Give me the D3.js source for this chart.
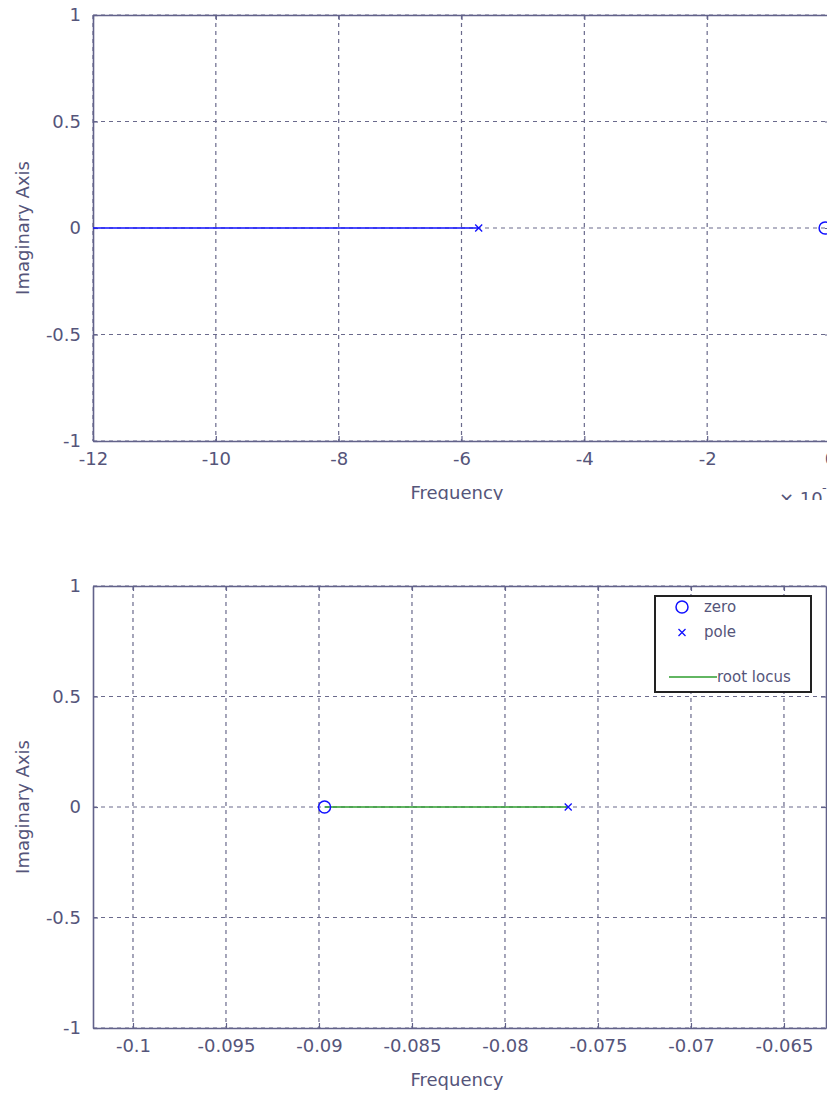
<!DOCTYPE html>
<html>
<head>
<meta charset="utf-8">
<script src="https://cdn.jsdelivr.net/npm/d3@7"></script>
<style>
  html, body { margin: 0; padding: 0; background: #fff; }
  svg { display: block; }
  text { font-family: "DejaVu Sans", sans-serif; fill: #55557a; }
</style>
</head>
<body>
<svg id="chart" width="827" height="1093"></svg>
<script>
// Upper root locus (real axis in units of the x10^ exponent)
const topXTicks = [-12, -10, -8, -6, -4, -2, 0];
const topYTicks = [-1, -0.5, 0, 0.5, 1];
const topPoles = [-5.72];
const topZeros = [-0.08];
const topLocus = [[-12, 0], [-5.72, 0]];

// Lower root locus
const botXTicks = [-0.1, -0.095, -0.09, -0.085, -0.08, -0.075, -0.07, -0.065];
const botYTicks = [-1, -0.5, 0, 0.5, 1];
const botPoles = [-0.0766];
const botZeros = [-0.0897];
const botLocus = [[-0.0897, 0], [-0.0766, 0]];
const legendItems = ["zero", "pole", "root locus"];

const svg = d3.select("#chart");
const frameColor = "#62628a";
const gridColor = "#6a6a8c";
const tickText = "#55557a";
const blue = "#1010ff";
const green = "#2e9e2e";
const plain = d => String(d);   // hyphen-minus, no unicode minus

function drawPanel(opt) {
  const g = svg.append("g").attr("clip-path", opt.clip ? `url(#${opt.clip})` : null);
  const x = d3.scaleLinear().domain(opt.xDomain).range([opt.left, opt.right]);
  const y = d3.scaleLinear().domain([-1, 1]).range([opt.bottom, opt.top]);

  // dashed grid
  g.append("g").selectAll("line").data(opt.xTicks).join("line")
    .attr("x1", d => x(d)).attr("x2", d => x(d))
    .attr("y1", opt.top).attr("y2", opt.bottom)
    .attr("stroke", gridColor).attr("stroke-width", 1.2)
    .attr("stroke-dasharray", "4,4");
  g.append("g").selectAll("line").data(opt.yTicks).join("line")
    .attr("x1", opt.left).attr("x2", opt.right)
    .attr("y1", d => y(d)).attr("y2", d => y(d))
    .attr("stroke", gridColor).attr("stroke-width", 1.2)
    .attr("stroke-dasharray", "4,4");

  // axes with inward ticks on all four sides
  const axB = d3.axisBottom(x).tickValues(opt.xTicks).tickSizeInner(-5).tickSizeOuter(0)
    .tickPadding(11).tickFormat(plain);
  const axT = d3.axisTop(x).tickValues(opt.xTicks).tickSizeInner(-5).tickSizeOuter(0).tickFormat("");
  const axL = d3.axisLeft(y).tickValues(opt.yTicks).tickSizeInner(-5).tickSizeOuter(0)
    .tickPadding(12).tickFormat(plain);
  const axR = d3.axisRight(y).tickValues(opt.yTicks).tickSizeInner(-5).tickSizeOuter(0).tickFormat("");

  const style = sel => {
    sel.selectAll("path").attr("stroke", frameColor).attr("stroke-width", 1.6);
    sel.selectAll("line").attr("stroke", frameColor).attr("stroke-width", 1.2);
    sel.selectAll("text").attr("fill", tickText).style("font-size", "18px")
      .style("font-family", "'DejaVu Sans', sans-serif");
  };
  g.append("g").attr("transform", `translate(0,${opt.bottom})`).call(axB).call(style);
  g.append("g").attr("transform", `translate(0,${opt.top})`).call(axT).call(style);
  g.append("g").attr("transform", `translate(${opt.left},0)`).call(axL).call(style);
  g.append("g").attr("transform", `translate(${opt.right},0)`).call(axR).call(style);

  // locus branch
  const line = d3.line().x(d => x(d[0])).y(d => y(d[1]));
  g.append("path").datum(opt.locus).attr("d", line)
    .attr("fill", "none").attr("stroke", opt.locusColor).attr("stroke-width", 1.6);

  // zeros
  g.selectAll("circle.z").data(opt.zeros).join("circle")
    .attr("cx", d => x(d)).attr("cy", y(0)).attr("r", 6)
    .attr("fill", "none").attr("stroke", blue).attr("stroke-width", 1.5);
  // poles
  g.selectAll("path.p").data(opt.poles).join("path")
    .attr("d", p => {
      const cx = x(p), cy = y(0), s = 3.5;
      return `M${cx - s},${cy - s}L${cx + s},${cy + s}M${cx - s},${cy + s}L${cx + s},${cy - s}`;
    })
    .attr("stroke", blue).attr("stroke-width", 1.3);

  // axis titles
  g.append("text").attr("x", 457).attr("y", opt.bottom + opt.xLabelDy)
    .attr("text-anchor", "middle").style("font-size", "18px").attr("fill", "#333344")
    .text("Frequency");
  g.append("text")
    .attr("transform", `translate(29,${y(0)}) rotate(-90)`)
    .attr("text-anchor", "middle").style("font-size", "18px").attr("fill", "#333344")
    .text("Imaginary Axis");
  return { g, x, y };
}

svg.append("defs").append("clipPath").attr("id", "topClip").append("rect")
  .attr("x", 0).attr("y", 0).attr("width", 827).attr("height", 500);

const topPanel = drawPanel({
  clip: "topClip",
  xDomain: [-12, 0], xTicks: topXTicks, yTicks: topYTicks,
  left: 93, right: 830, top: 15, bottom: 441,
  locus: topLocus, locusColor: blue, poles: topPoles, zeros: topZeros,
  xLabelDy: 58
});
// exponent label for the upper real axis
topPanel.g.append("text").attr("x", 779).attr("y", 505).style("font-size", "18px")
  .attr("fill", tickText).text("\u00d7 10");
topPanel.g.append("text").attr("x", 822).attr("y", 492).style("font-size", "13px")
  .attr("fill", tickText).text("-3");

drawPanel({
  xDomain: [-0.10215, -0.06274], xTicks: botXTicks, yTicks: botYTicks,
  left: 93, right: 826, top: 586, bottom: 1028,
  locus: botLocus, locusColor: green, poles: botPoles, zeros: botZeros,
  xLabelDy: 58
});

// legend
const lg = svg.append("g");
lg.append("rect").attr("x", 655).attr("y", 596).attr("width", 156).attr("height", 96)
  .attr("fill", "#fff").attr("stroke", "#222").attr("stroke-width", 2);
lg.append("circle").attr("cx", 682).attr("cy", 607).attr("r", 6)
  .attr("fill", "none").attr("stroke", blue).attr("stroke-width", 1.5);
lg.append("path").attr("d", "M678.5,629L685.5,636M678.5,636L685.5,629")
  .attr("stroke", blue).attr("stroke-width", 1.3);
lg.append("line").attr("x1", 669).attr("x2", 717).attr("y1", 677).attr("y2", 677)
  .attr("stroke", green).attr("stroke-width", 1.6);
const legendY = [612, 637, 682];
const legendX = [704, 704, 717];
lg.selectAll("text.leg").data(legendItems).join("text")
  .attr("x", (d, i) => legendX[i]).attr("y", (d, i) => legendY[i])
  .style("font-size", "15px").attr("fill", "#111").text(d => d);
</script>
</body>
</html>
